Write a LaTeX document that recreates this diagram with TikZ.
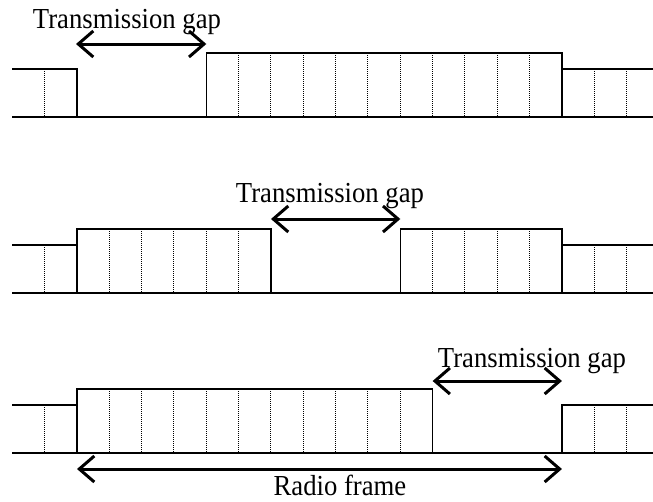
\documentclass[tikz,border=0pt]{standalone}
\usepackage{fontspec}
\setmainfont{Liberation Serif}
\usetikzlibrary{arrows.meta}
\begin{document}
\begin{tikzpicture}[x=1pt,y=-1pt,
  sig/.style={line width=1.3pt},
  slotline/.style={line width=1pt, dash pattern=on 1pt off 1pt},
  span/.style={line width=3pt, {Straight Barb[length=15pt,width=26pt,line width=3pt]}-{Straight Barb[length=15pt,width=26pt,line width=3pt]}},
  lbl/.style={font=\fontsize{29}{34}\selectfont, inner sep=0pt, anchor=base}]
\useasboundingbox (0,0) rectangle (653,501);
\def\w{32.33}
\newcommand{\squeezed}[1]{\scalebox{0.92}[1]{#1}}
% ---------- Row 1 ----------
\def\B{117}
\draw[sig] (12,\B-48) -- (77,\B-48) -- (77,\B);
\draw[sig] (12,\B) -- (653,\B);
\draw[sig] (77+4*\w,\B) -- (77+4*\w,\B-64) -- (77+15*\w,\B-64) -- (77+15*\w,\B);
\draw[sig] (77+15*\w,\B-48) -- (653,\B-48);
\foreach \k in {-1,16,17} \draw[slotline] (77+\k*\w,\B-48) -- (77+\k*\w,\B);
\foreach \k in {5,...,14} \draw[slotline] (77+\k*\w,\B-64) -- (77+\k*\w,\B);
\coordinate (g1a) at (76,44);
\coordinate (g1b) at (77+4*\w,44);
\draw[span] (g1a) -- (g1b);
\node[lbl] (t1) at (127,28) {\squeezed{Transmission gap}};
% ---------- Row 2 ----------
\def\B{293}
\draw[sig] (12,\B-48) -- (77,\B-48);
\draw[sig] (12,\B) -- (653,\B);
\draw[sig] (77,\B) -- (77,\B-64) -- (77+6*\w,\B-64) -- (77+6*\w,\B);
\draw[sig] (77+10*\w,\B) -- (77+10*\w,\B-64) -- (77+15*\w,\B-64) -- (77+15*\w,\B);
\draw[sig] (77+15*\w,\B-48) -- (653,\B-48);
\foreach \k in {-1,16,17} \draw[slotline] (77+\k*\w,\B-48) -- (77+\k*\w,\B);
\foreach \k in {1,...,5,11,12,13,14} \draw[slotline] (77+\k*\w,\B-64) -- (77+\k*\w,\B);
\coordinate (g2a) at (77+6*\w,219);
\coordinate (g2b) at (77+10*\w,219);
\draw[span] (g2a) -- (g2b);
\node[lbl] (t2) at (330,202) {\squeezed{Transmission gap}};
% ---------- Row 3 ----------
\def\B{453}
\draw[sig] (12,\B-48) -- (77,\B-48);
\draw[sig] (12,\B) -- (653,\B);
\draw[sig] (77,\B) -- (77,\B-64) -- (77+11*\w,\B-64) -- (77+11*\w,\B);
\draw[sig] (77+15*\w,\B) -- (77+15*\w,\B-48) -- (653,\B-48);
\foreach \k in {-1,16,17} \draw[slotline] (77+\k*\w,\B-48) -- (77+\k*\w,\B);
\foreach \k in {1,...,10} \draw[slotline] (77+\k*\w,\B-64) -- (77+\k*\w,\B);
\coordinate (g3a) at (77+11*\w,381);
\coordinate (g3b) at (77+15*\w,381);
\draw[span] (g3a) -- (g3b);
\node[lbl] (t3) at (532,367) {\squeezed{Transmission gap}};
\coordinate (rfa) at (77,469);
\coordinate (rfb) at (77+15*\w,469);
\draw[span] (rfa) -- (rfb);
\node[lbl] (t4) at (340,495) {\squeezed{Radio frame}};
\end{tikzpicture}
\end{document}
